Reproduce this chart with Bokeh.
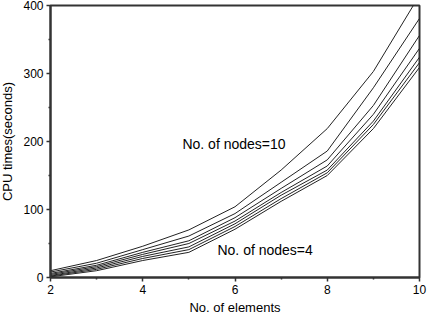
from bokeh.plotting import figure
from bokeh.embed import file_html
from bokeh.resources import INLINE
from bokeh.models import FixedTicker, Label, Range1d

elements = [2, 3, 4, 5, 6, 7, 8, 9, 10]
n10 = [10, 25, 46, 70, 104, 158, 219, 303, 415]
n9 = [8, 21, 41, 61, 94, 140, 186, 279, 381]
n8 = [6, 18, 37, 54, 88, 131, 173, 253, 356]
n7 = [4.5, 16, 34, 50, 83, 125, 164, 240, 337]
n6 = [3, 14, 31, 45, 79, 121, 158, 230, 324]
n5 = [2, 12, 28, 41, 75, 116, 154, 225, 316]
n4 = [1, 10, 25, 37, 71, 112, 150, 219, 309]
series = [n10, n9, n8, n7, n6, n5, n4]
x_ticks = [2, 4, 6, 8, 10]
y_ticks = [0, 100, 200, 300, 400]

FONT = "Liberation Sans"

p = figure(frame_width=369, frame_height=272, output_backend="svg", toolbar_location=None,
           x_range=Range1d(2, 10), y_range=Range1d(0, 400),
           min_border_left=50, min_border_right=8, min_border_top=5, min_border_bottom=36)
p.styles = {"margin-top": "0px", "margin-left": "-3px"}
p.background_fill_color = "white"
p.border_fill_color = "white"
p.grid.visible = False
p.outline_line_color = "#333333"
p.outline_line_width = 2

for s in series:
    p.line(elements, s, line_color="#222222", line_width=1)

p.xaxis.ticker = FixedTicker(ticks=x_ticks, minor_ticks=[3, 5, 7, 9])
p.yaxis.ticker = FixedTicker(ticks=y_ticks, minor_ticks=[50, 150, 250, 350])
for ax in (p.xaxis[0], p.yaxis[0]):
    ax.axis_line_color = "#333333"
    ax.axis_line_width = 2
    ax.major_tick_line_color = "#333333"
    ax.minor_tick_line_color = "#333333"
    ax.major_tick_line_width = 1.5
    ax.minor_tick_line_width = 1.5
    ax.major_tick_out = 4
    ax.major_tick_in = 0
    ax.minor_tick_out = 2
    ax.minor_tick_in = 0
    ax.major_label_text_font = FONT
    ax.major_label_text_font_size = "12px"
    ax.major_label_text_color = "black"
    ax.axis_label_text_font = FONT
    ax.axis_label_text_font_size = "13px"
    ax.axis_label_text_font_style = "normal"
    ax.axis_label_text_color = "black"

p.xaxis.axis_label = "No. of elements"
p.yaxis.axis_label = "CPU times(seconds)"
p.xaxis.major_label_standoff = 3
p.xaxis.axis_label_standoff = 3
p.yaxis.major_label_standoff = 3
p.yaxis.axis_label_standoff = 5
p.yaxis.major_label_orientation = "horizontal"

p.add_layout(Label(x=4.86, y=197, text="No. of nodes=10", text_font=FONT,
                   text_font_size="14px", text_color="black", text_baseline="middle"))
p.add_layout(Label(x=5.62, y=41, text="No. of  nodes=4", text_font=FONT,
                   text_font_size="14px", text_color="black", text_baseline="middle"))

open("out.html", "w").write(file_html(p, INLINE))
